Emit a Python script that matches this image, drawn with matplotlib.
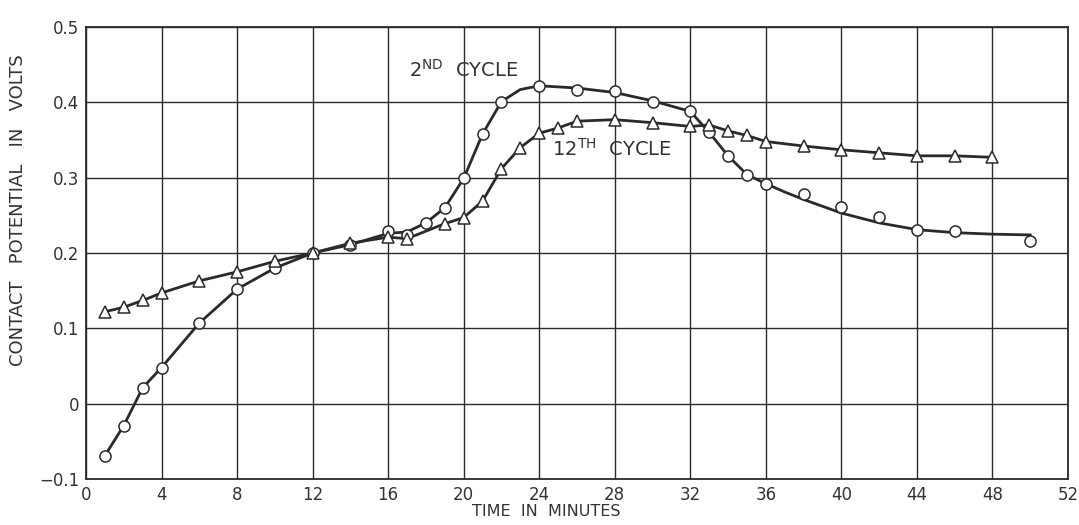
import matplotlib.pyplot as plt

# 2nd cycle (open circles)
c2_x = [1, 2, 3, 4, 6, 8, 10, 12, 14, 16, 17, 18, 19, 20, 21, 22, 24, 26, 28, 30, 32, 33, 34, 35, 36, 38, 40, 42, 44, 46, 50]
c2_y = [-0.069, -0.029, 0.021, 0.048, 0.107, 0.152, 0.18, 0.2, 0.211, 0.229, 0.224, 0.24, 0.26, 0.299, 0.358, 0.401,
        0.422, 0.417, 0.415, 0.4, 0.389, 0.36, 0.329, 0.304, 0.292, 0.278, 0.261, 0.248, 0.231, 0.229, 0.216]

# hand-drawn curve through the 2nd cycle points
c2_line_x = [1, 2, 3, 4, 6, 8, 10, 12, 14, 16, 17, 18, 19, 20, 21, 22, 23, 24, 26, 28, 30, 32, 33, 34, 35, 36,
             37, 38, 40, 42, 44, 46, 48, 50]
c2_line_y = [-0.069, -0.029, 0.021, 0.048, 0.107, 0.152, 0.18, 0.2, 0.211, 0.226, 0.228, 0.24, 0.26, 0.299, 0.358,
             0.401, 0.417, 0.422, 0.419, 0.413, 0.402, 0.388, 0.36, 0.329, 0.304, 0.292, 0.281, 0.271, 0.253, 0.24,
             0.231, 0.227, 0.225, 0.224]

# 12th cycle (open triangles)
c12_x = [1, 2, 3, 4, 6, 8, 10, 12, 14, 16, 17, 19, 20, 21, 22, 23, 24, 25, 26, 28, 30, 32, 33, 34, 35, 36, 38, 40, 42, 44, 46, 48]
c12_y = [0.122, 0.128, 0.137, 0.147, 0.163, 0.175, 0.189, 0.2, 0.213, 0.221, 0.219, 0.239, 0.247, 0.269, 0.312, 0.34,
         0.359, 0.366, 0.375, 0.377, 0.373, 0.368, 0.37, 0.362, 0.356, 0.348, 0.342, 0.337, 0.333, 0.329, 0.329, 0.327]

x_ticks = list(range(0, 53, 4))
y_ticks = [-0.1, 0, 0.1, 0.2, 0.3, 0.4, 0.5]
y_labels = ["\u22120.1", "0", "0.1", "0.2", "0.3", "0.4", "0.5"]

ink = "#2a2a2a"
txt = "#333333"

plt.rcParams["font.family"] = ["DejaVu Sans"]

fig = plt.figure(figsize=(10.79, 5.25), dpi=100)
ax = fig.add_axes([86 / 1079, 1 - 479 / 525, (1068 - 86) / 1079, (479 - 27) / 525])

ax.plot(c2_line_x, c2_line_y, color=ink, lw=2.0, zorder=3)
ax.plot(c2_x, c2_y, ls="none", marker="o", ms=8, mfc="white", mec=ink, mew=1.1, zorder=4)

ax.plot(c12_x, c12_y, color=ink, lw=2.0, zorder=3)
ax.plot(c12_x, c12_y, ls="none", marker="^", ms=9, mfc="white", mec=ink, mew=1.1, zorder=4)

ax.set_xlim(0, 52)
ax.set_ylim(-0.1, 0.5)
ax.set_xticks(x_ticks)
ax.set_yticks(y_ticks)
ax.set_yticklabels(y_labels)
ax.grid(True, color=ink, lw=1.0)
ax.tick_params(length=0, labelsize=12, colors=txt, pad=5)
for s in ax.spines.values():
    s.set_color(ink)
    s.set_linewidth(1.3)

ax.text(17.1, 0.443, r"2$^{\mathrm{ND}}$  CYCLE", fontsize=14, color=txt, va="center")
ax.text(24.7, 0.338, r"12$^{\mathrm{TH}}$  CYCLE", fontsize=14, color=txt, va="center")

fig.text(18 / 1079, 1 - 210 / 525, "CONTACT   POTENTIAL   IN   VOLTS", rotation=90, fontsize=13,
         color=txt, ha="center", va="center")
fig.text(546 / 1079, 1 - 512 / 525, "TIME  IN  MINUTES", fontsize=11.5, color=txt,
         ha="center", va="center")

fig.savefig("out.png", dpi=100)
